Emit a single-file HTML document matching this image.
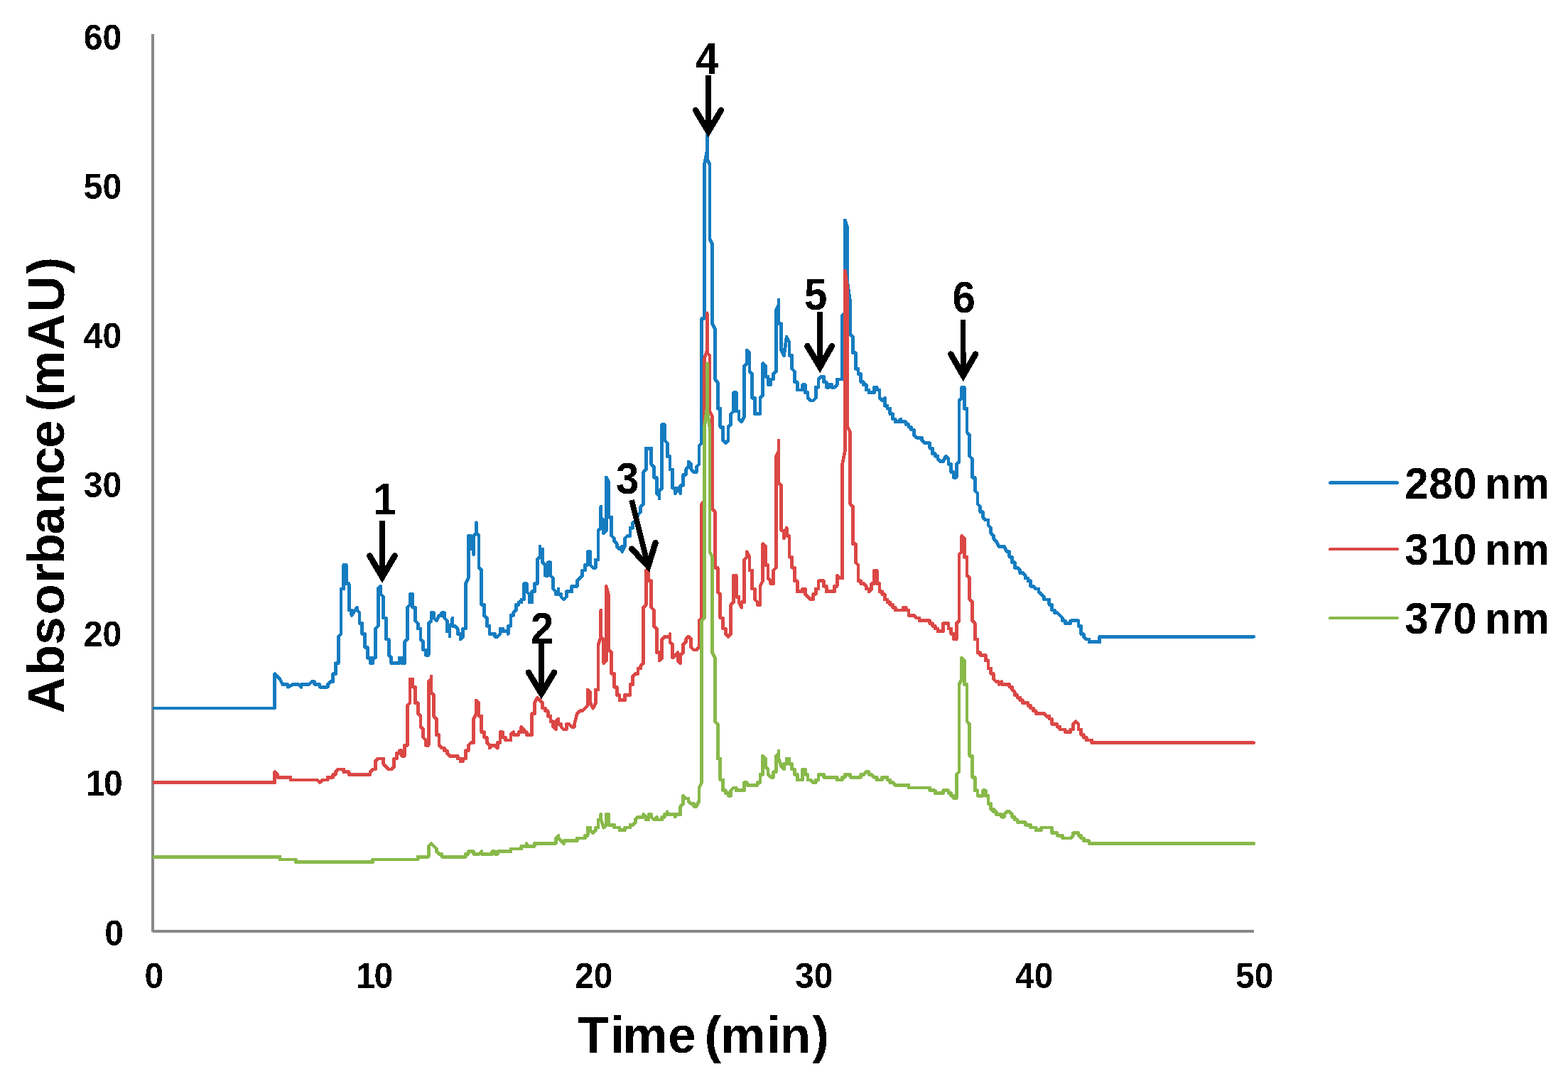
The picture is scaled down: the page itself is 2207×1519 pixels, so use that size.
<!DOCTYPE html>
<html lang="en"><head><meta charset="utf-8"><title>HPLC chromatogram</title>
<style>html,body{margin:0;padding:0;background:#fff}body{width:2207px;height:1519px;overflow:hidden}svg{display:block}text{font-family:"Liberation Sans", Arial, Helvetica, sans-serif;font-weight:700;fill:#000;font-kerning:none;font-variant-ligatures:none}.c{fill:none;stroke-width:4.75;stroke-linejoin:round;stroke-linecap:butt}.e{stroke-width:4.75;stroke-linecap:round}.ar{fill:none;stroke:#000}</style></head><body>
<svg width="2207" height="1519" viewBox="0 0 2207 1519">
<defs><filter id="bw" x="-5%" y="-5%" width="110%" height="110%" color-interpolation-filters="sRGB"><feComponentTransfer><feFuncA type="discrete" tableValues="0 1"/></feComponentTransfer></filter></defs>
<rect width="2207" height="1519" fill="#fff"/>
<g shape-rendering="crispEdges">
<path d="M215 48V1310.5H1765" fill="none" stroke="#888888" stroke-width="4" stroke-linejoin="round"/>
<polyline class="c" stroke="#157cc0" points="214.82,997.08 386.58,997.08 386.58,948.53 390.31,952.27 394.05,956 397.78,963.47 405.25,963.47 405.25,967.2 412.72,963.47 420.18,963.47 423.92,967.2 423.92,963.47 435.12,963.47 438.85,959.74 442.59,959.74 442.59,963.47 450.05,963.47 450.05,967.2 461.26,967.2 461.26,963.47 464.99,959.74 468.72,959.74 468.72,948.53 472.46,948.53 472.46,933.6 476.19,933.6 476.19,896.26 479.92,892.53 479.92,829.05 483.66,829.05 483.66,795.45 487.39,795.45 487.39,821.58 491.13,821.58 491.13,858.92 494.86,858.92 494.86,866.39 502.33,855.19 502.33,858.92 506.06,862.66 506.06,877.59 509.8,877.59 509.8,892.53 513.53,892.53 513.53,911.2 517.26,911.2 517.26,926.13 521,926.13 521,933.6 524.73,933.6 524.73,926.13 528.47,926.13 528.47,885.06 532.2,881.33 532.2,829.05 535.93,825.32 535.93,836.52 539.67,840.25 539.67,870.12 543.4,870.12 543.4,899.99 547.13,899.99 547.13,922.4 550.87,926.13 550.87,933.6 562.07,933.6 562.07,926.13 565.8,926.13 565.8,933.6 569.54,933.6 569.54,903.73 573.27,899.99 573.27,855.19 577.01,851.45 577.01,836.52 580.74,836.52 580.74,855.19 584.47,855.19 584.47,873.86 588.21,877.59 588.21,885.06 591.94,885.06 591.94,899.99 595.67,903.73 595.67,914.93 599.41,914.93 599.41,922.4 603.14,922.4 603.14,877.59 606.88,873.86 606.88,862.66 610.61,862.66 610.61,870.12 614.34,873.86 618.08,866.39 621.81,866.39 621.81,862.66 625.55,862.66 625.55,870.12 629.28,873.86 629.28,888.79 633.01,888.79 633.01,896.26 633.01,881.33 636.75,877.59 636.75,870.12 636.75,881.33 640.48,881.33 644.22,885.06 644.22,892.53 647.95,892.53 647.95,899.99 651.68,896.26 651.68,885.06 655.42,885.06 655.42,821.58 659.15,814.12 659.15,754.37 662.88,754.37 662.88,773.04 666.62,773.04 666.62,780.51 666.62,754.37 670.35,750.64 670.35,735.7 670.35,750.64 674.09,754.37 674.09,799.18 677.82,802.91 677.82,851.45 681.55,851.45 681.55,866.39 685.29,870.12 685.29,881.33 689.02,881.33 689.02,892.53 696.49,892.53 696.49,896.26 700.22,896.26 703.96,892.53 703.96,885.06 707.69,885.06 707.69,888.79 715.16,888.79 715.16,892.53 715.16,881.33 718.89,881.33 718.89,866.39 722.63,866.39 722.63,862.66 726.36,858.92 726.36,851.45 730.09,851.45 730.09,847.72 733.83,847.72 733.83,843.99 737.56,843.99 737.56,821.58 741.3,821.58 741.3,832.78 745.03,836.52 745.03,847.72 748.76,847.72 748.76,832.78 752.5,832.78 752.5,821.58 756.23,821.58 756.23,787.98 759.97,784.24 759.97,769.31 759.97,773.04 763.7,773.04 763.7,791.71 767.43,795.45 767.43,810.38 771.17,810.38 771.17,791.71 774.9,791.71 774.9,810.38 778.63,814.12 778.63,829.05 782.37,832.78 782.37,836.52 786.1,836.52 786.1,829.05 786.1,836.52 789.84,836.52 789.84,840.25 793.57,843.99 797.3,840.25 797.3,832.78 804.77,832.78 804.77,825.32 812.24,825.32 812.24,817.85 819.71,810.38 819.71,802.91 823.44,802.91 823.44,795.45 827.17,795.45 827.17,776.78 830.91,776.78 830.91,795.45 834.64,799.18 838.38,799.18 838.38,787.98 842.11,787.98 842.11,746.91 845.84,743.17 845.84,713.3 845.84,728.24 849.58,731.97 849.58,750.64 853.31,746.91 853.31,672.23 857.05,679.7 857.05,728.24 860.78,728.24 860.78,754.37 864.51,758.11 864.51,761.84 868.25,765.58 868.25,769.31 871.98,773.04 875.71,769.31 875.71,776.78 879.45,769.31 879.45,758.11 883.18,754.37 886.92,754.37 886.92,743.17 890.65,743.17 890.65,735.7 894.38,735.7 898.12,724.5 901.85,720.77 901.85,713.3 905.59,709.57 905.59,664.76 909.32,661.03 909.32,631.16 916.79,631.16 916.79,653.56 920.52,657.29 920.52,672.23 924.26,672.23 924.26,694.63 927.99,698.37 927.99,702.1 927.99,690.9 931.72,687.16 931.72,597.55 935.46,597.55 935.46,619.95 939.19,623.69 939.19,642.36 942.92,642.36 942.92,661.03 946.66,661.03 946.66,687.16 950.39,687.16 950.39,694.63 954.13,687.16 957.86,694.63 957.86,683.43 961.59,683.43 961.59,668.49 965.33,668.49 965.33,661.03 969.06,657.29 969.06,649.83 972.8,653.56 972.8,661.03 976.53,664.76 980.26,664.76 980.26,657.29 984,653.56 984,627.42 987.73,623.69 987.73,448.2 991.46,448.2 991.46,231.63 995.2,212.96 995.2,190.56 995.2,224.16 998.93,231.63 998.93,336.18 1002.67,343.65 1002.67,455.66 1006.4,463.13 1006.4,534.08 1010.13,537.81 1010.13,575.15 1013.87,575.15 1013.87,601.28 1017.6,601.28 1017.6,619.95 1021.34,623.69 1025.07,619.95 1025.07,601.28 1028.8,597.55 1028.8,582.62 1032.54,578.88 1032.54,552.74 1036.27,552.74 1036.27,578.88 1040.01,578.88 1040.01,590.08 1043.74,593.82 1047.47,586.35 1047.47,515.41 1051.21,511.67 1051.21,493 1054.94,496.74 1054.94,522.87 1058.67,526.61 1058.67,560.21 1062.41,560.21 1062.41,582.62 1069.88,582.62 1069.88,560.21 1073.61,556.48 1073.61,511.67 1077.34,515.41 1077.34,530.34 1081.08,530.34 1081.08,541.54 1084.81,541.54 1084.81,534.08 1088.55,534.08 1088.55,526.61 1092.28,522.87 1092.28,436.99 1096.01,429.53 1096.01,422.06 1096.01,455.66 1099.75,455.66 1099.75,493 1103.48,500.47 1107.21,474.33 1110.95,481.8 1110.95,500.47 1114.68,500.47 1114.68,519.14 1118.42,522.87 1118.42,537.81 1122.15,537.81 1122.15,549.01 1129.62,549.01 1129.62,541.54 1133.35,541.54 1133.35,552.74 1137.09,552.74 1137.09,560.21 1140.82,563.95 1144.55,563.95 1148.29,560.21 1148.29,545.28 1152.02,545.28 1152.02,534.08 1155.76,530.34 1159.49,530.34 1159.49,537.81 1163.22,537.81 1163.22,545.28 1166.96,545.28 1166.96,541.54 1170.69,541.54 1170.69,545.28 1174.42,545.28 1178.16,541.54 1178.16,534.08 1185.63,534.08 1185.63,444.46 1189.36,440.73 1189.36,310.04 1193.09,321.24 1193.09,399.66 1196.83,425.79 1196.83,470.6 1200.56,474.33 1200.56,496.74 1204.3,496.74 1204.3,519.14 1208.03,519.14 1208.03,526.61 1211.76,526.61 1211.76,537.81 1215.5,537.81 1215.5,541.54 1219.23,541.54 1219.23,549.01 1222.96,549.01 1222.96,552.74 1230.43,552.74 1230.43,545.28 1234.17,545.28 1234.17,549.01 1237.9,549.01 1237.9,560.21 1241.63,563.95 1245.37,560.21 1245.37,571.41 1249.1,571.41 1249.1,575.15 1252.84,575.15 1252.84,582.62 1256.57,582.62 1256.57,590.08 1260.3,590.08 1260.3,593.82 1264.04,593.82 1267.77,590.08 1267.77,593.82 1275.24,593.82 1275.24,597.55 1278.97,597.55 1278.97,601.28 1282.71,601.28 1282.71,605.02 1286.44,605.02 1286.44,612.49 1290.17,616.22 1297.64,616.22 1297.64,619.95 1301.38,623.69 1308.84,623.69 1308.84,631.16 1312.58,631.16 1312.58,638.62 1316.31,638.62 1316.31,642.36 1320.05,642.36 1320.05,646.09 1323.78,649.83 1327.51,649.83 1331.25,642.36 1334.98,646.09 1334.98,653.56 1338.71,653.56 1338.71,664.76 1342.45,664.76 1342.45,672.23 1346.18,672.23 1346.18,653.56 1349.92,649.83 1349.92,563.95 1353.65,560.21 1353.65,545.28 1357.38,545.28 1357.38,575.15 1361.12,575.15 1361.12,608.75 1364.85,612.49 1364.85,642.36 1368.59,646.09 1368.59,672.23 1372.32,672.23 1372.32,690.9 1376.05,694.63 1376.05,709.57 1379.79,713.3 1379.79,720.77 1383.52,720.77 1383.52,728.24 1387.26,731.97 1390.99,731.97 1390.99,739.44 1394.72,743.17 1394.72,750.64 1398.46,754.37 1398.46,758.11 1402.19,761.84 1405.92,769.31 1413.39,769.31 1417.13,776.78 1420.86,776.78 1420.86,784.24 1424.59,784.24 1424.59,791.71 1428.33,791.71 1428.33,799.18 1432.06,799.18 1435.8,802.91 1435.8,806.65 1439.53,806.65 1443.26,810.38 1443.26,814.12 1447,814.12 1447,817.85 1450.73,817.85 1450.73,825.32 1454.46,825.32 1458.2,829.05 1461.93,829.05 1461.93,832.78 1469.4,840.25 1469.4,843.99 1476.87,843.99 1476.87,851.45 1480.6,851.45 1480.6,858.92 1484.34,858.92 1484.34,862.66 1488.07,862.66 1491.8,866.39 1495.54,870.12 1495.54,873.86 1499.27,873.86 1499.27,877.59 1506.74,877.59 1506.74,873.86 1517.94,873.86 1517.94,881.33 1521.67,881.33 1521.67,892.53 1525.41,892.53 1525.41,896.26 1529.14,899.99 1532.88,899.99 1532.88,903.73 1547.81,903.73 1547.81,896.26 1764.6,896.26"/>
<line class="e" stroke="#157cc0" x1="1762.6" y1="896.26" x2="1764.6" y2="896.26"/>
<polyline class="c" stroke="#db4745" points="214.82,1101.62 386.58,1101.62 386.58,1086.69 390.31,1090.42 390.31,1094.16 408.98,1094.16 408.98,1097.89 446.32,1097.89 450.05,1101.62 453.79,1097.89 461.26,1097.89 461.26,1094.16 468.72,1094.16 468.72,1090.42 472.46,1090.42 472.46,1086.69 476.19,1082.95 483.66,1082.95 483.66,1086.69 491.13,1086.69 491.13,1090.42 521,1090.42 521,1086.69 524.73,1082.95 528.47,1082.95 528.47,1071.75 532.2,1068.02 539.67,1068.02 539.67,1075.49 547.13,1082.95 550.87,1082.95 554.6,1079.22 554.6,1068.02 558.34,1068.02 558.34,1060.55 562.07,1060.55 562.07,1056.82 565.8,1056.82 565.8,1064.28 569.54,1064.28 569.54,1049.35 573.27,1049.35 573.27,993.34 577.01,989.61 577.01,956 580.74,956 580.74,967.2 584.47,967.2 584.47,989.61 588.21,989.61 588.21,1004.54 591.94,1008.28 591.94,1023.21 595.67,1026.95 595.67,1038.15 599.41,1041.88 599.41,1049.35 603.14,1049.35 603.14,959.74 606.88,956 606.88,952.27 606.88,974.67 610.61,978.41 610.61,1008.28 614.34,1012.01 614.34,1034.41 618.08,1034.41 618.08,1049.35 621.81,1053.08 625.55,1053.08 625.55,1056.82 629.28,1056.82 629.28,1060.55 633.01,1064.28 644.22,1064.28 644.22,1068.02 647.95,1068.02 647.95,1071.75 651.68,1071.75 651.68,1068.02 655.42,1068.02 655.42,1056.82 659.15,1056.82 659.15,1049.35 662.88,1045.62 666.62,1045.62 666.62,1012.01 670.35,1004.54 670.35,985.87 674.09,989.61 674.09,1008.28 677.82,1008.28 677.82,1030.68 681.55,1030.68 681.55,1038.15 685.29,1038.15 685.29,1045.62 689.02,1049.35 689.02,1053.08 692.76,1049.35 696.49,1049.35 700.22,1053.08 700.22,1045.62 703.96,1045.62 703.96,1030.68 707.69,1030.68 707.69,1038.15 711.42,1038.15 711.42,1041.88 718.89,1041.88 718.89,1034.41 722.63,1030.68 722.63,1034.41 730.09,1034.41 730.09,1030.68 733.83,1030.68 733.83,1023.21 737.56,1026.95 737.56,1030.68 741.3,1030.68 741.3,1034.41 748.76,1034.41 748.76,1004.54 752.5,1004.54 752.5,989.61 756.23,982.14 759.97,985.87 763.7,989.61 763.7,997.08 767.43,997.08 767.43,1000.81 771.17,1000.81 771.17,1008.28 774.9,1008.28 774.9,1015.74 778.63,1015.74 778.63,1023.21 782.37,1026.95 782.37,1015.74 786.1,1012.01 786.1,1019.48 789.84,1019.48 789.84,1023.21 793.57,1026.95 797.3,1026.95 797.3,1019.48 801.04,1019.48 804.77,1023.21 808.51,1023.21 808.51,1019.48 812.24,1004.54 815.97,1000.81 819.71,1000.81 827.17,993.34 827.17,970.94 830.91,974.67 830.91,989.61 834.64,997.08 838.38,989.61 838.38,970.94 842.11,970.94 842.11,907.46 845.84,896.26 845.84,858.92 845.84,896.26 849.58,899.99 849.58,933.6 853.31,929.87 853.31,825.32 857.05,840.25 857.05,914.93 860.78,918.66 860.78,948.53 864.51,948.53 864.51,967.2 868.25,967.2 868.25,978.41 871.98,978.41 871.98,985.87 879.45,985.87 879.45,978.41 886.92,978.41 886.92,963.47 890.65,963.47 890.65,952.27 894.38,948.53 898.12,948.53 898.12,941.07 901.85,941.07 901.85,937.33 905.59,933.6 905.59,855.19 909.32,851.45 909.32,802.91 913.05,802.91 913.05,817.85 916.79,817.85 916.79,855.19 920.52,858.92 920.52,881.33 924.26,885.06 924.26,918.66 927.99,918.66 927.99,929.87 931.72,926.13 931.72,899.99 935.46,896.26 942.92,896.26 942.92,892.53 942.92,903.73 946.66,907.46 946.66,926.13 954.13,918.66 954.13,929.87 957.86,933.6 957.86,922.4 961.59,918.66 961.59,907.46 965.33,903.73 965.33,899.99 969.06,896.26 972.8,899.99 972.8,911.2 976.53,914.93 980.26,914.93 984,911.2 984,873.86 987.73,870.12 987.73,709.57 991.46,705.83 991.46,504.2 995.2,493 995.2,440.73 995.2,496.74 998.93,500.47 998.93,578.88 1002.67,586.35 1002.67,717.03 1006.4,720.77 1006.4,799.18 1010.13,799.18 1010.13,832.78 1013.87,836.52 1013.87,870.12 1017.6,870.12 1017.6,885.06 1021.34,885.06 1021.34,892.53 1025.07,896.26 1028.8,892.53 1028.8,851.45 1032.54,847.72 1032.54,810.38 1036.27,810.38 1036.27,840.25 1040.01,840.25 1040.01,847.72 1043.74,855.19 1043.74,847.72 1047.47,847.72 1047.47,787.98 1051.21,784.24 1051.21,776.78 1054.94,784.24 1054.94,802.91 1058.67,802.91 1058.67,829.05 1062.41,829.05 1062.41,843.99 1066.14,847.72 1066.14,851.45 1069.88,851.45 1069.88,825.32 1073.61,817.85 1073.61,765.58 1077.34,769.31 1077.34,795.45 1081.08,795.45 1081.08,814.12 1084.81,817.85 1084.81,821.58 1088.55,821.58 1088.55,802.91 1092.28,799.18 1092.28,642.36 1096.01,634.89 1096.01,619.95 1096.01,679.7 1099.75,683.43 1099.75,746.91 1103.48,746.91 1103.48,758.11 1107.21,743.17 1107.21,754.37 1110.95,754.37 1110.95,784.24 1114.68,784.24 1114.68,799.18 1118.42,799.18 1118.42,817.85 1122.15,817.85 1122.15,832.78 1129.62,832.78 1129.62,829.05 1133.35,829.05 1133.35,836.52 1137.09,840.25 1140.82,843.99 1144.55,843.99 1144.55,836.52 1148.29,836.52 1148.29,829.05 1152.02,829.05 1152.02,817.85 1159.49,817.85 1159.49,825.32 1163.22,825.32 1163.22,832.78 1174.42,832.78 1174.42,825.32 1178.16,825.32 1178.16,810.38 1181.89,814.12 1185.63,814.12 1185.63,653.56 1189.36,634.89 1189.36,380.99 1193.09,407.12 1193.09,601.28 1196.83,608.75 1196.83,709.57 1200.56,713.3 1200.56,765.58 1204.3,765.58 1204.3,791.71 1208.03,795.45 1208.03,817.85 1211.76,817.85 1211.76,821.58 1215.5,821.58 1219.23,825.32 1219.23,829.05 1222.96,829.05 1222.96,832.78 1226.7,829.05 1226.7,821.58 1230.43,821.58 1230.43,802.91 1234.17,802.91 1234.17,821.58 1237.9,821.58 1237.9,832.78 1241.63,832.78 1241.63,836.52 1245.37,836.52 1245.37,843.99 1249.1,843.99 1249.1,847.72 1252.84,847.72 1252.84,851.45 1256.57,851.45 1256.57,855.19 1260.3,855.19 1260.3,858.92 1271.51,858.92 1271.51,855.19 1275.24,855.19 1275.24,858.92 1278.97,858.92 1278.97,866.39 1286.44,866.39 1290.17,870.12 1293.91,870.12 1293.91,873.86 1308.84,873.86 1308.84,877.59 1312.58,877.59 1312.58,881.33 1316.31,881.33 1316.31,885.06 1320.05,885.06 1320.05,888.79 1327.51,888.79 1327.51,877.59 1334.98,877.59 1334.98,885.06 1338.71,885.06 1338.71,892.53 1342.45,892.53 1342.45,899.99 1346.18,899.99 1346.18,877.59 1349.92,873.86 1349.92,780.51 1353.65,776.78 1353.65,754.37 1357.38,758.11 1357.38,784.24 1361.12,784.24 1361.12,810.38 1364.85,814.12 1364.85,843.99 1368.59,847.72 1368.59,873.86 1372.32,877.59 1372.32,899.99 1376.05,899.99 1376.05,918.66 1379.79,918.66 1379.79,922.4 1387.26,922.4 1387.26,929.87 1390.99,929.87 1390.99,941.07 1394.72,941.07 1394.72,948.53 1398.46,948.53 1398.46,956 1402.19,959.74 1405.92,959.74 1405.92,963.47 1409.66,959.74 1409.66,963.47 1420.86,963.47 1420.86,967.2 1424.59,967.2 1424.59,970.94 1428.33,974.67 1428.33,978.41 1432.06,978.41 1432.06,982.14 1435.8,982.14 1435.8,985.87 1439.53,985.87 1439.53,989.61 1447,989.61 1447,993.34 1450.73,993.34 1450.73,997.08 1454.46,997.08 1454.46,1000.81 1458.2,1000.81 1458.2,1004.54 1469.4,1004.54 1473.13,1008.28 1476.87,1008.28 1476.87,1012.01 1480.6,1012.01 1480.6,1019.48 1488.07,1019.48 1488.07,1023.21 1491.8,1023.21 1491.8,1026.95 1499.27,1026.95 1499.27,1030.68 1506.74,1030.68 1506.74,1026.95 1510.47,1026.95 1510.47,1019.48 1514.21,1015.74 1517.94,1019.48 1517.94,1026.95 1521.67,1026.95 1521.67,1034.41 1525.41,1034.41 1525.41,1038.15 1529.14,1038.15 1529.14,1041.88 1536.61,1041.88 1536.61,1045.62 1764.6,1045.62"/>
<line class="e" stroke="#db4745" x1="1762.6" y1="1045.62" x2="1764.6" y2="1045.62"/>
<polyline class="c" stroke="#88b94a" points="214.82,1206.17 394.05,1206.17 394.05,1209.91 416.45,1209.91 416.45,1213.64 524.73,1213.64 524.73,1209.91 588.21,1209.91 588.21,1206.17 603.14,1206.17 603.14,1191.24 606.88,1187.5 610.61,1191.24 614.34,1194.97 614.34,1198.7 618.08,1202.44 621.81,1202.44 621.81,1206.17 655.42,1206.17 655.42,1202.44 659.15,1202.44 659.15,1198.7 666.62,1198.7 666.62,1202.44 674.09,1202.44 677.82,1198.7 677.82,1202.44 692.76,1202.44 692.76,1198.7 696.49,1198.7 696.49,1202.44 700.22,1202.44 700.22,1198.7 718.89,1198.7 718.89,1194.97 733.83,1194.97 733.83,1191.24 741.3,1191.24 741.3,1187.5 741.3,1191.24 752.5,1191.24 752.5,1187.5 782.37,1187.5 782.37,1180.03 786.1,1176.3 786.1,1180.03 793.57,1187.5 793.57,1183.77 812.24,1183.77 812.24,1180.03 823.44,1180.03 823.44,1176.3 827.17,1176.3 827.17,1165.1 830.91,1165.1 830.91,1168.83 834.64,1172.57 838.38,1168.83 838.38,1165.1 842.11,1165.1 842.11,1153.9 845.84,1153.9 845.84,1146.43 845.84,1153.9 849.58,1165.1 853.31,1161.37 853.31,1146.43 857.05,1146.43 857.05,1161.37 864.51,1161.37 864.51,1165.1 871.98,1165.1 871.98,1168.83 879.45,1168.83 879.45,1165.1 886.92,1165.1 886.92,1161.37 890.65,1161.37 894.38,1157.63 894.38,1153.9 898.12,1150.16 905.59,1150.16 905.59,1146.43 909.32,1150.16 909.32,1153.9 913.05,1153.9 913.05,1146.43 916.79,1146.43 916.79,1150.16 920.52,1153.9 924.26,1150.16 924.26,1153.9 931.72,1153.9 931.72,1150.16 935.46,1150.16 935.46,1146.43 939.19,1146.43 939.19,1142.7 939.19,1146.43 950.39,1146.43 950.39,1150.16 950.39,1146.43 957.86,1146.43 957.86,1135.23 961.59,1131.49 961.59,1120.29 965.33,1124.03 969.06,1124.03 969.06,1127.76 972.8,1131.49 976.53,1131.49 976.53,1135.23 980.26,1135.23 984,1127.76 984,1109.09 987.73,1101.62 987.73,873.86 991.46,870.12 991.46,601.28 995.2,575.15 995.2,511.67 995.2,575.15 998.93,601.28 998.93,776.78 1002.67,784.24 1002.67,918.66 1006.4,926.13 1006.4,1015.74 1010.13,1019.48 1010.13,1068.02 1013.87,1068.02 1013.87,1097.89 1017.6,1097.89 1017.6,1112.82 1021.34,1112.82 1021.34,1116.56 1025.07,1116.56 1025.07,1120.29 1028.8,1120.29 1028.8,1112.82 1032.54,1109.09 1036.27,1109.09 1036.27,1112.82 1047.47,1112.82 1047.47,1101.62 1051.21,1101.62 1051.21,1105.36 1066.14,1105.36 1066.14,1101.62 1069.88,1101.62 1069.88,1090.42 1073.61,1090.42 1073.61,1064.28 1077.34,1068.02 1077.34,1079.22 1081.08,1082.95 1081.08,1090.42 1084.81,1094.16 1088.55,1094.16 1088.55,1086.69 1092.28,1086.69 1092.28,1064.28 1096.01,1060.55 1096.01,1056.82 1096.01,1068.02 1099.75,1079.22 1103.48,1082.95 1103.48,1075.49 1107.21,1075.49 1107.21,1068.02 1110.95,1068.02 1110.95,1075.49 1114.68,1075.49 1114.68,1082.95 1118.42,1082.95 1118.42,1090.42 1122.15,1090.42 1122.15,1097.89 1129.62,1097.89 1129.62,1082.95 1133.35,1082.95 1133.35,1090.42 1137.09,1090.42 1137.09,1097.89 1140.82,1097.89 1144.55,1101.62 1148.29,1101.62 1148.29,1097.89 1152.02,1097.89 1152.02,1090.42 1159.49,1090.42 1159.49,1094.16 1178.16,1094.16 1178.16,1097.89 1185.63,1097.89 1185.63,1094.16 1189.36,1094.16 1189.36,1090.42 1196.83,1090.42 1196.83,1094.16 1211.76,1094.16 1211.76,1090.42 1215.5,1090.42 1219.23,1086.69 1222.96,1086.69 1222.96,1090.42 1226.7,1090.42 1230.43,1094.16 1234.17,1094.16 1234.17,1097.89 1241.63,1097.89 1241.63,1094.16 1249.1,1094.16 1249.1,1097.89 1252.84,1097.89 1252.84,1101.62 1256.57,1101.62 1260.3,1105.36 1278.97,1105.36 1278.97,1109.09 1308.84,1109.09 1308.84,1112.82 1316.31,1112.82 1316.31,1116.56 1327.51,1116.56 1327.51,1112.82 1334.98,1112.82 1334.98,1116.56 1338.71,1116.56 1338.71,1120.29 1342.45,1120.29 1342.45,1124.03 1346.18,1124.03 1346.18,1090.42 1349.92,1086.69 1349.92,963.47 1353.65,956 1353.65,926.13 1357.38,929.87 1357.38,963.47 1361.12,963.47 1361.12,1015.74 1364.85,1019.48 1364.85,1064.28 1368.59,1064.28 1368.59,1094.16 1372.32,1094.16 1372.32,1112.82 1376.05,1112.82 1376.05,1120.29 1383.52,1120.29 1383.52,1112.82 1387.26,1112.82 1387.26,1120.29 1390.99,1120.29 1390.99,1131.49 1394.72,1131.49 1394.72,1138.96 1398.46,1142.7 1398.46,1138.96 1402.19,1142.7 1402.19,1146.43 1409.66,1146.43 1409.66,1150.16 1413.39,1150.16 1413.39,1146.43 1417.13,1142.7 1420.86,1142.7 1424.59,1146.43 1424.59,1150.16 1428.33,1150.16 1428.33,1153.9 1432.06,1153.9 1432.06,1157.63 1443.26,1157.63 1443.26,1161.37 1450.73,1161.37 1450.73,1165.1 1458.2,1165.1 1458.2,1168.83 1465.67,1168.83 1465.67,1165.1 1480.6,1165.1 1480.6,1172.57 1488.07,1172.57 1488.07,1176.3 1495.54,1176.3 1495.54,1180.03 1506.74,1180.03 1510.47,1176.3 1510.47,1172.57 1517.94,1172.57 1517.94,1176.3 1521.67,1176.3 1521.67,1180.03 1525.41,1180.03 1525.41,1183.77 1532.88,1183.77 1532.88,1187.5 1764.6,1187.5"/>
<line class="e" stroke="#88b94a" x1="1762.6" y1="1187.5" x2="1764.6" y2="1187.5"/>
</g>
<g filter="url(#bw)">
<text transform="translate(171.2 69.6) scale(1 1.04)" font-size="48" text-anchor="end">60</text>
<text transform="translate(171.2 279.6) scale(1 1.04)" font-size="48" text-anchor="end">50</text>
<text transform="translate(171.2 489.6) scale(1 1.04)" font-size="48" text-anchor="end">40</text>
<text transform="translate(171.2 699.6) scale(1 1.04)" font-size="48" text-anchor="end">30</text>
<text transform="translate(171.2 909.6) scale(1 1.04)" font-size="48" text-anchor="end">20</text>
<text transform="translate(171.2 1119.6) scale(1 1.04)" font-size="48" text-anchor="end"><tspan dx="1.5">1</tspan><tspan dx="-1.5">0</tspan></text>
<text transform="translate(173.9 1330.6) scale(1 1.04)" font-size="48" text-anchor="end">0</text>
<text transform="translate(216.75 1391.3) scale(1 1.04)" font-size="48" text-anchor="middle">0</text>
<text transform="translate(525.7 1391.3) scale(1 1.04)" font-size="48" text-anchor="middle"><tspan dx="1.5">1</tspan><tspan dx="-1.5">0</tspan></text>
<text transform="translate(835.7 1391.3) scale(1 1.04)" font-size="48" text-anchor="middle">20</text>
<text transform="translate(1145.7 1391.3) scale(1 1.04)" font-size="48" text-anchor="middle">30</text>
<text transform="translate(1455.7 1391.3) scale(1 1.04)" font-size="48" text-anchor="middle">40</text>
<text transform="translate(1765.7 1391.3) scale(1 1.04)" font-size="48" text-anchor="middle">50</text>
<text transform="translate(813.5 1481.8) scale(1 1.02)" font-size="70.8" text-anchor="start" style="word-spacing:-6.5px" dx="0 2.4 -2.4 1 0 -1.5 -0.6 2 -1.3 2.4">Time (min)</text>
<text transform="translate(90.4 1004.3) rotate(-90) scale(1 1.02)" font-size="70.8" text-anchor="start" style="word-spacing:-6.5px" dx="0 2.2 0 2.9 1.5 -1.1 -1.5 3.6 -2.1 -1.8 0 -1.3 -0.9 1.1 2.15 2.85">Absorbance (mAU)</text>
<text transform="translate(1977.2 701.7) scale(1 1.04)" font-size="60" text-anchor="start" style="letter-spacing:0.6px;word-spacing:-6px">280 nm</text>
<text transform="translate(1977.2 794.7) scale(1 1.04)" font-size="60" text-anchor="start" style="letter-spacing:0.6px;word-spacing:-6px">3<tspan dx="2">1</tspan><tspan dx="-2">0 nm</tspan></text>
<text transform="translate(1977.2 891.7) scale(1 1.04)" font-size="60" text-anchor="start" style="letter-spacing:0.6px;word-spacing:-6px">370 nm</text>
</g>
<g shape-rendering="crispEdges">
<line x1="1872.4" y1="679.7" x2="1966.6" y2="679.7" stroke="#157cc0" stroke-width="4.75" stroke-linecap="round"/>
<line x1="1872.4" y1="773.04" x2="1966.6" y2="773.04" stroke="#db4745" stroke-width="4.75" stroke-linecap="round"/>
<line x1="1872.4" y1="870.12" x2="1966.6" y2="870.12" stroke="#88b94a" stroke-width="4.75" stroke-linecap="round"/>
</g>
<g filter="url(#bw)">
<text transform="translate(541.6 724) scale(0.97 1.045)" font-size="60" text-anchor="middle">1</text>
<text transform="translate(763.2 906) scale(0.97 1.045)" font-size="60" text-anchor="middle">2</text>
<text transform="translate(883.1 694.5) scale(0.97 1.045)" font-size="60" text-anchor="middle">3</text>
<text transform="translate(995.5 104) scale(0.97 1.045)" font-size="60" text-anchor="middle">4</text>
<text transform="translate(1148.2 436.4) scale(0.97 1.045)" font-size="60" text-anchor="middle">5</text>
<text transform="translate(1356.8 440.4) scale(0.97 1.045)" font-size="60" text-anchor="middle">6</text>
</g>
<g shape-rendering="crispEdges">
<path class="ar" stroke-width="7.7" stroke-linecap="butt" d="M538.0 733.1L538.0 812.4"/>
<path class="ar" stroke-width="8.5" stroke-linecap="round" stroke-linejoin="miter" stroke-miterlimit="10" d="M520.3 782.4L538.0 812.4L555.6 782.4"/>
<path class="ar" stroke-width="7.7" stroke-linecap="butt" d="M762.1 906.0L762.0 976.4"/>
<path class="ar" stroke-width="8.5" stroke-linecap="round" stroke-linejoin="miter" stroke-miterlimit="10" d="M744.0 946.7L762.0 976.4L780.0 946.7"/>
<path class="ar" stroke-width="7.7" stroke-linecap="butt" d="M889.0 704.0L912.3 797.3"/>
<path class="ar" stroke-width="8.5" stroke-linecap="round" stroke-linejoin="miter" stroke-miterlimit="10" d="M889.2 772.7L912.3 797.3L922.6 764.2"/>
<path class="ar" stroke-width="7.7" stroke-linecap="butt" d="M997.0 106.1L997.0 185.3"/>
<path class="ar" stroke-width="8.5" stroke-linecap="round" stroke-linejoin="miter" stroke-miterlimit="10" d="M979.1 155.2L997.0 185.3L1014.9 155.2"/>
<path class="ar" stroke-width="7.7" stroke-linecap="butt" d="M1154.1 439.3L1154.1 516.7"/>
<path class="ar" stroke-width="8.5" stroke-linecap="round" stroke-linejoin="miter" stroke-miterlimit="10" d="M1136.4 487.1L1154.1 516.7L1170.9 487.1"/>
<path class="ar" stroke-width="7.7" stroke-linecap="butt" d="M1355.6 450.0L1355.7 528.7"/>
<path class="ar" stroke-width="8.5" stroke-linecap="round" stroke-linejoin="miter" stroke-miterlimit="10" d="M1338.3 498.6L1355.7 528.7L1373.1 498.6"/>
</g>
</svg></body></html>
